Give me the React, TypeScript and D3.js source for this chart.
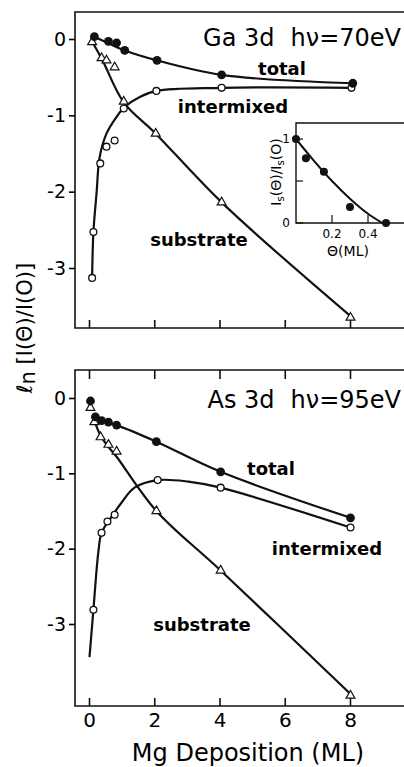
import * as d3 from "d3";
import { useEffect, useRef } from "react";

// Mg deposition (ML) vs ln[I(θ)/I(0)]
// Ga 3d, hν = 70 eV
const gaTotal = [[0.15, 0.03], [0.58, -0.03], [0.83, -0.05], [1.08, -0.15], [2.07, -0.28], [4.05, -0.47], [8.07, -0.58]];
const gaTotalFit = [[0.15, 0.03], [0.6, -0.06], [1.08, -0.15], [2.07, -0.28], [4.05, -0.47], [8.07, -0.58]];
const gaMixed = [[0.08, -3.13], [0.12, -2.53], [0.33, -1.63], [0.52, -1.41], [0.77, -1.33], [1.05, -0.91], [2.05, -0.68], [4.05, -0.64], [8.03, -0.64]];
const gaMixedFit = [[0.08, -3.13], [0.12, -2.53], [0.22, -2.0], [0.31, -1.55], [0.52, -1.24], [0.83, -1.02], [1.08, -0.89], [1.54, -0.76], [2.05, -0.68], [4.05, -0.64], [8.03, -0.64]];
const gaSubs = [[0.08, -0.04], [0.37, -0.25], [0.52, -0.28], [0.77, -0.37], [1.05, -0.82], [2.03, -1.24], [4.05, -2.14], [8.0, -3.65]];
const gaSubsFit = [[0.1, -0.05], [0.4, -0.28], [1.05, -0.83], [2.03, -1.24], [4.05, -2.14], [8.0, -3.63]];

// As 3d, hν = 95 eV
const asTotal = [[0.03, -0.04], [0.18, -0.25], [0.37, -0.3], [0.58, -0.32], [0.83, -0.36], [2.05, -0.58], [4.02, -0.98], [8.0, -1.59]];
const asTotalFit = [[0.18, -0.25], [0.37, -0.3], [0.83, -0.36], [2.05, -0.58], [4.02, -0.98], [8.0, -1.59]];
const asMixed = [[0.12, -2.81], [0.37, -1.79], [0.55, -1.64], [0.77, -1.55], [2.09, -1.09], [4.02, -1.19], [8.0, -1.72]];
const asMixedFit = [[0.0, -3.44], [0.12, -2.81], [0.27, -2.05], [0.37, -1.79], [0.67, -1.58], [0.98, -1.39], [1.38, -1.19], [2.09, -1.09], [3.03, -1.11], [4.02, -1.19], [8.0, -1.72]];
const asSubs = [[0.03, -0.13], [0.15, -0.32], [0.34, -0.52], [0.58, -0.62], [0.83, -0.71], [2.05, -1.5], [4.02, -2.29], [8.0, -3.95]];
const asSubsFit = [[0.15, -0.3], [0.34, -0.5], [0.6, -0.66], [0.83, -0.78], [2.05, -1.5], [4.02, -2.29], [8.0, -3.93]];

// inset: Is(θ)/Is(0) vs θ (ML)
const insetPts = [[0.0, 1.0], [0.055, 0.77], [0.155, 0.61], [0.3, 0.19], [0.5, 0.0]];
const insetFit = [[0.0, 1.0], [0.1, 0.74], [0.2, 0.5], [0.3, 0.29], [0.4, 0.11], [0.48, 0.0]];

const xTicks = [0, 2, 4, 6, 8];
const yTicks = [0, -1, -2, -3];
const insetXTicks = [0.2, 0.4];
const insetYTicks = [0, 0.5, 1];

const FONT = "DejaVu Sans, Verdana, sans-serif";

const App = () => {
    const ref = useRef<SVGSVGElement>(null);

    useEffect(() => {
        const svg = d3.select(ref.current);
        svg.selectAll("*").remove();

        const left = 75;
        const x = d3.scaleLinear().domain([0, 8]).range([89.5, 350.5]);

        const panels = [
            { top: 12, bottom: 328, y0: 39, y3: 268, title: ["Ga 3d", "hν=70eV"], titleY: 46,
              total: gaTotal, totalFit: gaTotalFit, mixed: gaMixed, mixedFit: gaMixedFit, subs: gaSubs, subsFit: gaSubsFit,
              labels: [["total", 282, 75], ["intermixed", 233, 113], ["substrate", 199, 246]], showX: false },
            { top: 370, bottom: 706, y0: 398, y3: 624, title: ["As 3d", "hν=95eV"], titleY: 408,
              total: asTotal, totalFit: asTotalFit, mixed: asMixed, mixedFit: asMixedFit, subs: asSubs, subsFit: asSubsFit,
              labels: [["total", 271, 475], ["intermixed", 327, 555], ["substrate", 202, 631]], showX: true },
        ];

        panels.forEach(p => {
            const y = d3.scaleLinear().domain([0, -3]).range([p.y0, p.y3]);
            const g = svg.append("g");

            // frame (right side runs off the page)
            g.append("path")
                .attr("d", `M420,${p.top}H${left}V${p.bottom}H420`)
                .attr("fill", "none").attr("stroke", "#111").attr("stroke-width", 1.6);

            // y axis
            const ya = g.append("g")
                .attr("transform", `translate(${left},0)`)
                .call(d3.axisLeft(y).tickValues(yTicks).tickSize(6).tickPadding(3).tickFormat(d => String(d)));
            ya.select(".domain").remove();
            ya.attr("font-family", FONT).attr("font-size", 19);
            ya.selectAll("line").attr("stroke-width", 1.6);

            // x ticks (inward)
            g.selectAll(".xb").data(xTicks).enter().append("line")
                .attr("x1", d => x(d)).attr("x2", d => x(d))
                .attr("y1", p.bottom).attr("y2", p.bottom - 8)
                .attr("stroke", "#111").attr("stroke-width", 1.6);
            if (p.showX) {
                g.selectAll(".xt").data(xTicks).enter().append("line")
                    .attr("x1", d => x(d)).attr("x2", d => x(d))
                    .attr("y1", p.top).attr("y2", p.top + 9)
                    .attr("stroke", "#111").attr("stroke-width", 1.6);
                g.selectAll(".xl").data(xTicks).enter().append("text")
                    .attr("x", d => x(d)).attr("y", p.bottom + 21)
                    .attr("text-anchor", "middle").attr("font-family", FONT).attr("font-size", 20)
                    .text(d => String(d));
            }

            // curves
            const line = d3.line<number[]>()
                .x(d => x(d[0])).y(d => y(d[1]))
                .curve(d3.curveCatmullRom.alpha(0.5));
            [p.totalFit, p.mixedFit, p.subsFit].forEach(s => {
                g.append("path").attr("d", line(s)).attr("fill", "none")
                    .attr("stroke", "#111").attr("stroke-width", 2.2);
            });

            // markers
            g.selectAll(".tri").data(p.subs).enter().append("path")
                .attr("d", d3.symbol(d3.symbolTriangle, 34)())
                .attr("transform", d => `translate(${x(d[0])},${y(d[1])})`)
                .attr("fill", "white").attr("stroke", "#111").attr("stroke-width", 1.2);
            g.selectAll(".oc").data(p.mixed).enter().append("circle")
                .attr("cx", d => x(d[0])).attr("cy", d => y(d[1])).attr("r", 3.4)
                .attr("fill", "white").attr("stroke", "#111").attr("stroke-width", 1.3);
            g.selectAll(".fc").data(p.total).enter().append("circle")
                .attr("cx", d => x(d[0])).attr("cy", d => y(d[1])).attr("r", 4.4)
                .attr("fill", "#111");

            // labels (x = centre, y = baseline)
            g.selectAll(".lab").data(p.labels).enter().append("text")
                .attr("x", d => d[1] as number).attr("y", d => d[2] as number)
                .attr("text-anchor", "middle").attr("font-family", FONT)
                .attr("font-size", 18).attr("font-weight", "bold")
                .text(d => d[0] as string);

            const t = g.append("text").attr("x", 401).attr("y", p.titleY)
                .attr("text-anchor", "end").attr("font-family", FONT).attr("font-size", 24);
            t.append("tspan").text(p.title[0]);
            t.append("tspan").attr("dx", 16).text(p.title[1]);
        });

        // inset
        const ix = d3.scaleLinear().domain([0, 0.6]).range([296, 404]);
        const iy = d3.scaleLinear().domain([0, 1]).range([223, 139]);
        const ig = svg.append("g");
        ig.append("rect").attr("x", 296).attr("y", 123).attr("width", 120).attr("height", 100).attr("fill", "white");
        ig.append("path").attr("d", "M420,123H296V223H420")
            .attr("fill", "none").attr("stroke", "#111").attr("stroke-width", 1.4);
        ig.selectAll(".iyt").data(insetYTicks).enter().append("line")
            .attr("x1", 296).attr("x2", 303).attr("y1", d => iy(d)).attr("y2", d => iy(d))
            .attr("stroke", "#111").attr("stroke-width", 1.2);
        ig.selectAll(".ixt").data(insetXTicks).enter().append("line")
            .attr("x1", d => ix(d)).attr("x2", d => ix(d)).attr("y1", 223).attr("y2", 215)
            .attr("stroke", "#111").attr("stroke-width", 1.2);
        ig.selectAll(".ixl").data(insetXTicks).enter().append("text")
            .attr("x", d => ix(d)).attr("y", 238).attr("text-anchor", "middle")
            .attr("font-family", FONT).attr("font-size", 12).text(d => String(d));
        ig.selectAll(".iyl").data([0, 1]).enter().append("text")
            .attr("x", 290).attr("y", d => iy(d) + 4).attr("text-anchor", "end")
            .attr("font-family", FONT).attr("font-size", 12).text(d => String(d));
        ig.append("text").attr("x", 348).attr("y", 256).attr("text-anchor", "middle")
            .attr("font-family", FONT).attr("font-size", 14).text("Θ(ML)");
        const il = ig.append("text").attr("transform", "translate(281,172) rotate(-90)")
            .attr("text-anchor", "middle").attr("font-family", FONT).attr("font-size", 14);
        il.append("tspan").text("I");
        il.append("tspan").attr("font-size", 10).attr("dy", 3).text("s");
        il.append("tspan").attr("dy", -3).text("(Θ)/I");
        il.append("tspan").attr("font-size", 10).attr("dy", 3).text("s");
        il.append("tspan").attr("dy", -3).text("(O)");

        const iline = d3.line<number[]>().x(d => ix(d[0])).y(d => iy(d[1])).curve(d3.curveCatmullRom.alpha(0.5));
        ig.append("path").attr("d", iline(insetFit)).attr("fill", "none")
            .attr("stroke", "#111").attr("stroke-width", 2);
        ig.selectAll(".ip").data(insetPts).enter().append("circle")
            .attr("cx", d => ix(d[0])).attr("cy", d => iy(d[1])).attr("r", 4)
            .attr("fill", "#111");

        // shared axis titles
        svg.append("text").attr("x", 248).attr("y", 761).attr("text-anchor", "middle")
            .attr("font-family", FONT).attr("font-size", 24).text("Mg Deposition (ML)");
        const yl = svg.append("text").attr("transform", "translate(32,328) rotate(-90)")
            .attr("text-anchor", "middle").attr("font-family", FONT).attr("font-size", 21);
        yl.append("tspan").text("ℓ");
        yl.append("tspan").attr("dy", 3).text("n");
        yl.append("tspan").attr("dy", -3).text(" [I(Θ)/I(O)]");
    }, []);

    return (
        <svg ref={ref} width={404} height={767}
            style={{ position: "absolute", left: 0, top: 0, background: "white" }} />
    );
};

export default App;
